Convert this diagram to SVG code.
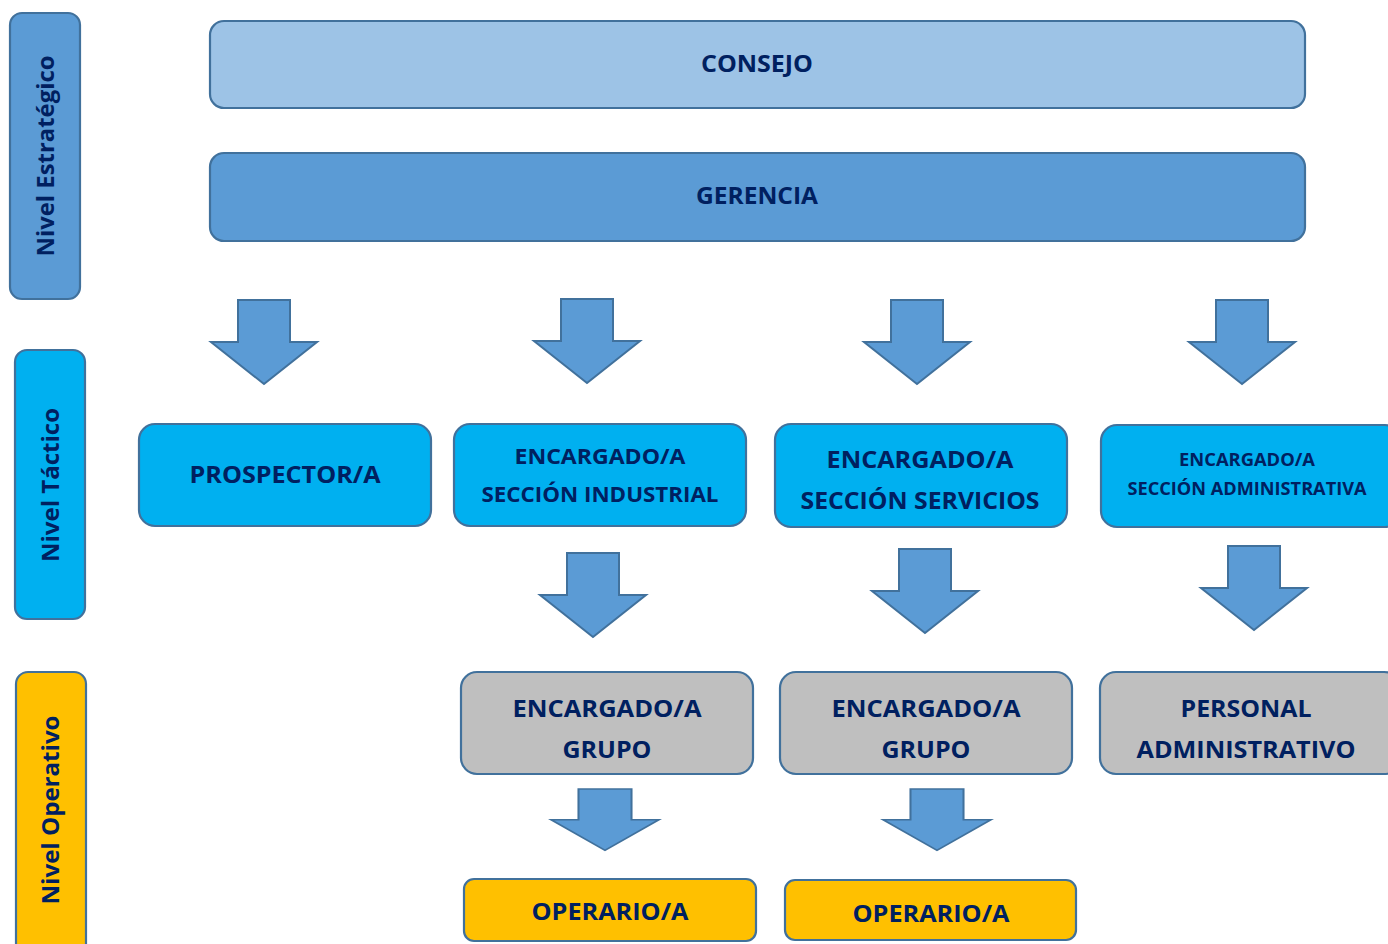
<svg xmlns="http://www.w3.org/2000/svg" width="1388" height="944" viewBox="0 0 1388 944">
<style>
.box{stroke:#41719c;stroke-width:2.2}
.dark{fill:#5b9bd5}
.light{fill:#9dc3e6}
.cyan{fill:#00b0f0}
.gray{fill:#bfbfbf}
.amber{fill:#ffc000}
.arrow{fill:#5b9bd5;stroke:#41719c;stroke-width:2;stroke-linejoin:miter}
text{font-family:"Open Sans",Lato,"Liberation Sans",sans-serif;font-weight:bold;fill:#002060;text-anchor:middle;dominant-baseline:central}
</style>
<defs>
<path id="arr" d="M-26,0 H26 V42 H53 L0,84 L-53,42 H-26 Z"/>
</defs>
<rect width="1388" height="944" fill="#ffffff"/>
<g id="level-strategic">
<rect class="box dark" x="10" y="13" width="70" height="286" rx="12"/>
<text transform="translate(45,156) rotate(-90)" font-size="23" textLength="201" lengthAdjust="spacingAndGlyphs">Nivel Estratégico</text>
</g>
<g id="level-tactic">
<rect class="box cyan" x="15" y="350" width="70" height="269" rx="12"/>
<text transform="translate(50,485) rotate(-90)" font-size="23" textLength="154" lengthAdjust="spacingAndGlyphs">Nivel Táctico</text>
</g>
<g id="level-operative">
<rect class="box amber" x="16" y="672" width="70" height="290" rx="12"/>
<text transform="translate(50,810) rotate(-90)" font-size="23" textLength="189" lengthAdjust="spacingAndGlyphs">Nivel Operativo</text>
</g>
<g id="consejo">
<rect class="box light" x="210" y="21" width="1095" height="87" rx="14"/>
<text x="757" y="63" font-size="23" textLength="112" lengthAdjust="spacingAndGlyphs">CONSEJO</text>
</g>
<g id="gerencia">
<rect class="box dark" x="210" y="153" width="1095" height="88" rx="14"/>
<text x="757" y="195" font-size="23" textLength="122" lengthAdjust="spacingAndGlyphs">GERENCIA</text>
</g>
<g id="prospector">
<rect class="box cyan" x="139" y="424" width="292" height="102" rx="16"/>
<text x="285" y="473" font-size="24" textLength="191" lengthAdjust="spacingAndGlyphs">PROSPECTOR/A</text>
</g>
<g id="enc-industrial">
<rect class="box cyan" x="454" y="424" width="292" height="102" rx="16"/>
<text x="600" y="456" font-size="21" textLength="171" lengthAdjust="spacingAndGlyphs">ENCARGADO/A</text>
<text x="600" y="494" font-size="21" textLength="237" lengthAdjust="spacingAndGlyphs">SECCIÓN INDUSTRIAL</text>
</g>
<g id="enc-servicios">
<rect class="box cyan" x="775" y="424" width="292" height="103" rx="16"/>
<text x="920" y="459" font-size="23" textLength="187" lengthAdjust="spacingAndGlyphs">ENCARGADO/A</text>
<text x="920" y="500" font-size="23" textLength="239" lengthAdjust="spacingAndGlyphs">SECCIÓN SERVICIOS</text>
</g>
<g id="enc-administrativa">
<rect class="box cyan" x="1101" y="425" width="300" height="102" rx="16"/>
<text x="1247" y="459" font-size="17" textLength="136" lengthAdjust="spacingAndGlyphs">ENCARGADO/A</text>
<text x="1247" y="488" font-size="17" textLength="239" lengthAdjust="spacingAndGlyphs">SECCIÓN ADMINISTRATIVA</text>
</g>
<g id="enc-grupo-1">
<rect class="box gray" x="461" y="672" width="292" height="102" rx="16"/>
<text x="607" y="707" font-size="24" textLength="189" lengthAdjust="spacingAndGlyphs">ENCARGADO/A</text>
<text x="607" y="748" font-size="24" textLength="89" lengthAdjust="spacingAndGlyphs">GRUPO</text>
</g>
<g id="enc-grupo-2">
<rect class="box gray" x="780" y="672" width="292" height="102" rx="16"/>
<text x="926" y="707" font-size="24" textLength="189" lengthAdjust="spacingAndGlyphs">ENCARGADO/A</text>
<text x="926" y="748" font-size="24" textLength="89" lengthAdjust="spacingAndGlyphs">GRUPO</text>
</g>
<g id="personal-admin">
<rect class="box gray" x="1100" y="672" width="300" height="102" rx="16"/>
<text x="1246" y="707" font-size="24" textLength="131" lengthAdjust="spacingAndGlyphs">PERSONAL</text>
<text x="1246" y="748" font-size="24" textLength="219" lengthAdjust="spacingAndGlyphs">ADMINISTRATIVO</text>
</g>
<g id="operario-1">
<rect class="box amber" x="464" y="879" width="292" height="62" rx="10"/>
<text x="610" y="911" font-size="23" textLength="157" lengthAdjust="spacingAndGlyphs">OPERARIO/A</text>
</g>
<g id="operario-2">
<rect class="box amber" x="785" y="880" width="291" height="60" rx="10"/>
<text x="931" y="913" font-size="23" textLength="157" lengthAdjust="spacingAndGlyphs">OPERARIO/A</text>
</g>
<g id="connectors">
<use href="#arr" class="arrow" transform="translate(264,300)"/>
<use href="#arr" class="arrow" transform="translate(587,299)"/>
<use href="#arr" class="arrow" transform="translate(917,300)"/>
<use href="#arr" class="arrow" transform="translate(1242,300)"/>
<use href="#arr" class="arrow" transform="translate(593,553)"/>
<use href="#arr" class="arrow" transform="translate(925,549)"/>
<use href="#arr" class="arrow" transform="translate(1254,546)"/>
<use href="#arr" class="arrow" transform="translate(605,789) scale(1.02,0.73)"/>
<use href="#arr" class="arrow" transform="translate(937,789) scale(1.02,0.73)"/>
</g>
</svg>
